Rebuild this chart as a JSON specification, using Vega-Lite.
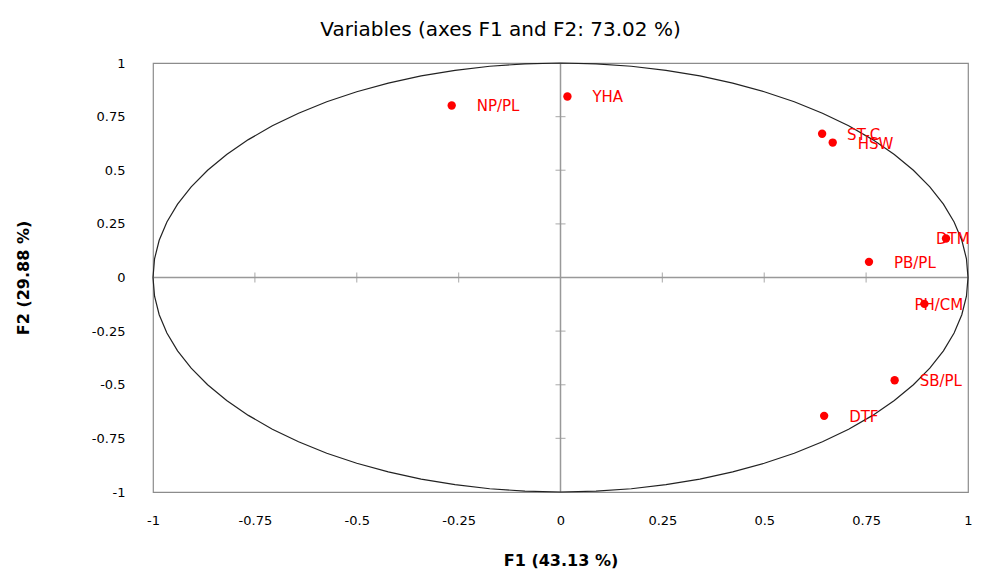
{
  "$schema": "https://vega.github.io/schema/vega-lite/v6.json",
  "width": 815,
  "height": 429,
  "autosize": {"type": "none"},
  "padding": {"left": 153, "top": 63, "right": 14, "bottom": 88},
  "background": "#ffffff",
  "title": {
    "text": "Variables (axes F1 and F2: 73.02 %)",
    "font": "DejaVu Sans",
    "fontSize": 20,
    "fontWeight": "normal",
    "color": "#000000",
    "anchor": "middle",
    "dx": -60,
    "offset": 17
  },
  "config": {
    "view": {"stroke": "#8c8c8c", "strokeWidth": 1.2},
    "axis": {"grid": false}
  },
  "datasets": {
    "points": [
      {"label": "NP/PL", "F1": -0.267, "F2": 0.802},
      {"label": "YHA", "F1": 0.017, "F2": 0.844},
      {"label": "ST-C", "F1": 0.642, "F2": 0.67},
      {"label": "HSW", "F1": 0.668, "F2": 0.629},
      {"label": "DTM", "F1": 0.946, "F2": 0.182},
      {"label": "PB/PL", "F1": 0.757, "F2": 0.073},
      {"label": "PH/CM", "F1": 0.893, "F2": -0.123},
      {"label": "SB/PL", "F1": 0.82, "F2": -0.479},
      {"label": "DTF", "F1": 0.647, "F2": -0.645}
    ],
    "circle": [
      {"a": 0, "F1": 1, "F2": 0}, {"a": 5, "F1": 0.9962, "F2": 0.0872}, {"a": 10, "F1": 0.9848, "F2": 0.1736},
      {"a": 15, "F1": 0.9659, "F2": 0.2588}, {"a": 20, "F1": 0.9397, "F2": 0.342}, {"a": 25, "F1": 0.9063, "F2": 0.4226},
      {"a": 30, "F1": 0.866, "F2": 0.5}, {"a": 35, "F1": 0.8192, "F2": 0.5736}, {"a": 40, "F1": 0.766, "F2": 0.6428},
      {"a": 45, "F1": 0.7071, "F2": 0.7071}, {"a": 50, "F1": 0.6428, "F2": 0.766}, {"a": 55, "F1": 0.5736, "F2": 0.8192},
      {"a": 60, "F1": 0.5, "F2": 0.866}, {"a": 65, "F1": 0.4226, "F2": 0.9063}, {"a": 70, "F1": 0.342, "F2": 0.9397},
      {"a": 75, "F1": 0.2588, "F2": 0.9659}, {"a": 80, "F1": 0.1736, "F2": 0.9848}, {"a": 85, "F1": 0.0872, "F2": 0.9962},
      {"a": 90, "F1": 0, "F2": 1}, {"a": 95, "F1": -0.0872, "F2": 0.9962}, {"a": 100, "F1": -0.1736, "F2": 0.9848},
      {"a": 105, "F1": -0.2588, "F2": 0.9659}, {"a": 110, "F1": -0.342, "F2": 0.9397}, {"a": 115, "F1": -0.4226, "F2": 0.9063},
      {"a": 120, "F1": -0.5, "F2": 0.866}, {"a": 125, "F1": -0.5736, "F2": 0.8192}, {"a": 130, "F1": -0.6428, "F2": 0.766},
      {"a": 135, "F1": -0.7071, "F2": 0.7071}, {"a": 140, "F1": -0.766, "F2": 0.6428}, {"a": 145, "F1": -0.8192, "F2": 0.5736},
      {"a": 150, "F1": -0.866, "F2": 0.5}, {"a": 155, "F1": -0.9063, "F2": 0.4226}, {"a": 160, "F1": -0.9397, "F2": 0.342},
      {"a": 165, "F1": -0.9659, "F2": 0.2588}, {"a": 170, "F1": -0.9848, "F2": 0.1736}, {"a": 175, "F1": -0.9962, "F2": 0.0872},
      {"a": 180, "F1": -1, "F2": 0}, {"a": 185, "F1": -0.9962, "F2": -0.0872}, {"a": 190, "F1": -0.9848, "F2": -0.1736},
      {"a": 195, "F1": -0.9659, "F2": -0.2588}, {"a": 200, "F1": -0.9397, "F2": -0.342}, {"a": 205, "F1": -0.9063, "F2": -0.4226},
      {"a": 210, "F1": -0.866, "F2": -0.5}, {"a": 215, "F1": -0.8192, "F2": -0.5736}, {"a": 220, "F1": -0.766, "F2": -0.6428},
      {"a": 225, "F1": -0.7071, "F2": -0.7071}, {"a": 230, "F1": -0.6428, "F2": -0.766}, {"a": 235, "F1": -0.5736, "F2": -0.8192},
      {"a": 240, "F1": -0.5, "F2": -0.866}, {"a": 245, "F1": -0.4226, "F2": -0.9063}, {"a": 250, "F1": -0.342, "F2": -0.9397},
      {"a": 255, "F1": -0.2588, "F2": -0.9659}, {"a": 260, "F1": -0.1736, "F2": -0.9848}, {"a": 265, "F1": -0.0872, "F2": -0.9962},
      {"a": 270, "F1": 0, "F2": -1}, {"a": 275, "F1": 0.0872, "F2": -0.9962}, {"a": 280, "F1": 0.1736, "F2": -0.9848},
      {"a": 285, "F1": 0.2588, "F2": -0.9659}, {"a": 290, "F1": 0.342, "F2": -0.9397}, {"a": 295, "F1": 0.4226, "F2": -0.9063},
      {"a": 300, "F1": 0.5, "F2": -0.866}, {"a": 305, "F1": 0.5736, "F2": -0.8192}, {"a": 310, "F1": 0.6428, "F2": -0.766},
      {"a": 315, "F1": 0.7071, "F2": -0.7071}, {"a": 320, "F1": 0.766, "F2": -0.6428}, {"a": 325, "F1": 0.8192, "F2": -0.5736},
      {"a": 330, "F1": 0.866, "F2": -0.5}, {"a": 335, "F1": 0.9063, "F2": -0.4226}, {"a": 340, "F1": 0.9397, "F2": -0.342},
      {"a": 345, "F1": 0.9659, "F2": -0.2588}, {"a": 350, "F1": 0.9848, "F2": -0.1736}, {"a": 355, "F1": 0.9962, "F2": -0.0872},
      {"a": 360, "F1": 1, "F2": 0}
    ],
    "axes": [
      {"F1": -1, "F2": 0, "F1e": 1, "F2e": 0},
      {"F1": 0, "F2": -1, "F1e": 0, "F2e": 1}
    ],
    "xticks": [
      {"F1": -0.75, "F2": 0}, {"F1": -0.5, "F2": 0}, {"F1": -0.25, "F2": 0},
      {"F1": 0.25, "F2": 0}, {"F1": 0.5, "F2": 0}, {"F1": 0.75, "F2": 0}
    ],
    "yticks": [
      {"F1": 0, "F2": -0.75}, {"F1": 0, "F2": -0.5}, {"F1": 0, "F2": -0.25},
      {"F1": 0, "F2": 0.25}, {"F1": 0, "F2": 0.5}, {"F1": 0, "F2": 0.75}
    ]
  },
  "encoding": {
    "x": {
      "field": "F1",
      "type": "quantitative",
      "scale": {"domain": [-1, 1], "nice": false, "zero": false},
      "axis": {
        "title": "F1 (43.13 %)",
        "values": [-1, -0.75, -0.5, -0.25, 0, 0.25, 0.5, 0.75, 1],
        "labelExpr": "'' + datum.value",
        "grid": false,
        "ticks": false,
        "domain": false,
        "labelFlush": false,
        "labelOverlap": false,
        "labelPadding": 22,
        "labelFont": "DejaVu Sans",
        "labelFontSize": 13,
        "labelColor": "#000000",
        "titleFont": "DejaVu Sans",
        "titleFontSize": 16,
        "titleFontWeight": "bold",
        "titleColor": "#000000",
        "titlePadding": 25
      }
    },
    "y": {
      "field": "F2",
      "type": "quantitative",
      "scale": {"domain": [-1, 1], "nice": false, "zero": false},
      "axis": {
        "title": "F2 (29.88 %)",
        "values": [-1, -0.75, -0.5, -0.25, 0, 0.25, 0.5, 0.75, 1],
        "labelExpr": "'' + datum.value",
        "grid": false,
        "ticks": false,
        "domain": false,
        "labelFlush": false,
        "labelOverlap": false,
        "labelPadding": 28,
        "labelFont": "DejaVu Sans",
        "labelFontSize": 13,
        "labelColor": "#000000",
        "titleFont": "DejaVu Sans",
        "titleFontSize": 16,
        "titleFontWeight": "bold",
        "titleColor": "#000000",
        "titlePadding": 60
      }
    }
  },
  "layer": [
    {
      "data": {"name": "axes"},
      "mark": {"type": "rule", "color": "#999999", "strokeWidth": 1.5},
      "encoding": {"x2": {"field": "F1e"}, "y2": {"field": "F2e"}}
    },
    {
      "data": {"name": "xticks"},
      "mark": {"type": "tick", "orient": "vertical", "color": "#999999", "size": 10, "thickness": 1.2}
    },
    {
      "data": {"name": "yticks"},
      "mark": {"type": "tick", "orient": "horizontal", "color": "#999999", "size": 10, "thickness": 1.2}
    },
    {
      "data": {"name": "circle"},
      "mark": {"type": "line", "color": "#222222", "strokeWidth": 1.2},
      "encoding": {"order": {"field": "a", "type": "quantitative"}}
    },
    {
      "data": {"name": "points"},
      "mark": {"type": "circle", "color": "#ff0000", "opacity": 1, "size": 70}
    },
    {
      "data": {"name": "points"},
      "transform": [{"filter": "datum.label !== 'DTM' && datum.label !== 'PH/CM'"}],
      "mark": {"type": "text", "color": "#ff0000", "font": "DejaVu Sans", "fontSize": 15, "align": "left", "baseline": "middle", "dx": 25, "dy": 1},
      "encoding": {"text": {"field": "label"}}
    },
    {
      "data": {"name": "points"},
      "transform": [{"filter": "datum.label === 'DTM' || datum.label === 'PH/CM'"}],
      "mark": {"type": "text", "color": "#ff0000", "font": "DejaVu Sans", "fontSize": 15, "align": "left", "baseline": "middle", "dx": -10, "dy": 1},
      "encoding": {"text": {"field": "label"}}
    }
  ]
}
